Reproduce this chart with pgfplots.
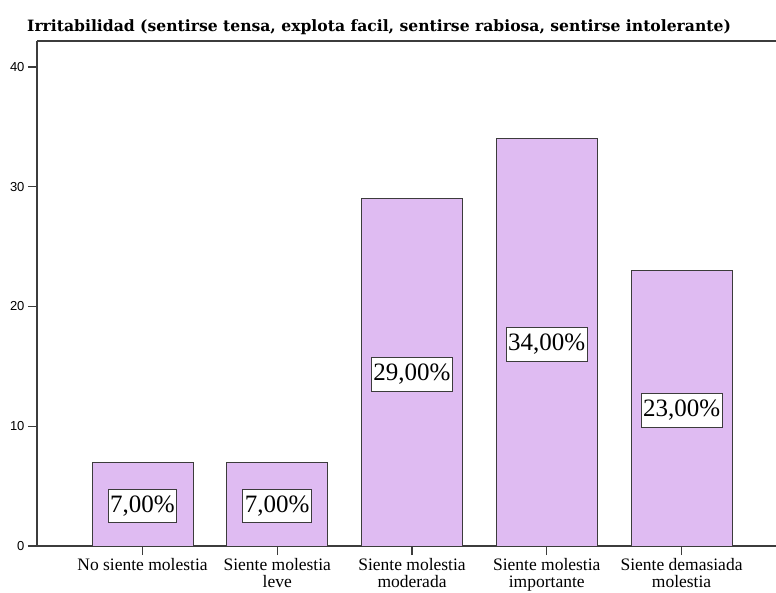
\documentclass[border=0pt]{standalone}
\usepackage{pgfplots}
\pgfplotsset{compat=1.18}
\usepackage{fontspec}
\setmainfont{Liberation Serif}
\setsansfont{Liberation Sans}
\newfontfamily\titlefont{DejaVu Serif}
\definecolor{barfill}{RGB}{223,187,242}
\definecolor{edge}{RGB}{60,60,60}
\begin{document}
\begin{tikzpicture}[x=1pt,y=1pt]
\useasboundingbox (0,0) rectangle (776,592);
\node[anchor=base west, font=\fontsize{15.6}{16}\titlefont\bfseries, inner sep=0] at (27,560) {Irritabilidad (sentirse tensa, explota facil, sentirse rabiosa, sentirse intolerante)};
\begin{axis}[
  at={(37pt,46pt)}, anchor=south west,
  scale only axis, width=739pt, height=505pt,
  xmin=-0.783, xmax=4.701, ymin=0, ymax=42.17,
  axis x line*=bottom, axis y line*=left,
  axis line style={edge, line width=1.3pt},
  tick style={edge, line width=1.3pt},
  tick align=outside,
  major tick length=9pt,
  ytick={0,10,20,30,40},
  xtick={0,1,2,3,4},
  xticklabels={{No siente molestia},{Siente molestia\\leve},{Siente molestia\\moderada},{Siente molestia\\importante},{Siente demasiada\\molestia}},
  xticklabel style={font=\fontsize{17.5}{16.5}\selectfont, align=center},
  yticklabel style={font=\fontsize{13}{13}\sffamily},
  /pgf/number format/assume math mode=true,
  clip=false,
]
\draw[edge, line width=1.3pt] (rel axis cs:0,1) -- (rel axis cs:1,1);
\addplot[ybar, bar width=101pt, fill=barfill, draw=edge, line width=1pt,
  nodes near coords={\pgfmathprintnumber[fixed,fixed zerofill,precision=2,use comma,assume math mode=true]{\pgfplotspointmeta}\%},
  visualization depends on={y \as \rawy},
  every node near coord/.append style={anchor=center, fill=white, draw=edge, line width=1pt, text=black, font=\fontsize{25}{25}\selectfont, inner xsep=2pt, inner ysep=6.5pt, shift={(axis direction cs:0,-\rawy/2)}, yshift=-2pt},
] coordinates {(0,7) (1,7) (2,29) (3,34) (4,23)};
\end{axis}
\end{tikzpicture}
\end{document}
